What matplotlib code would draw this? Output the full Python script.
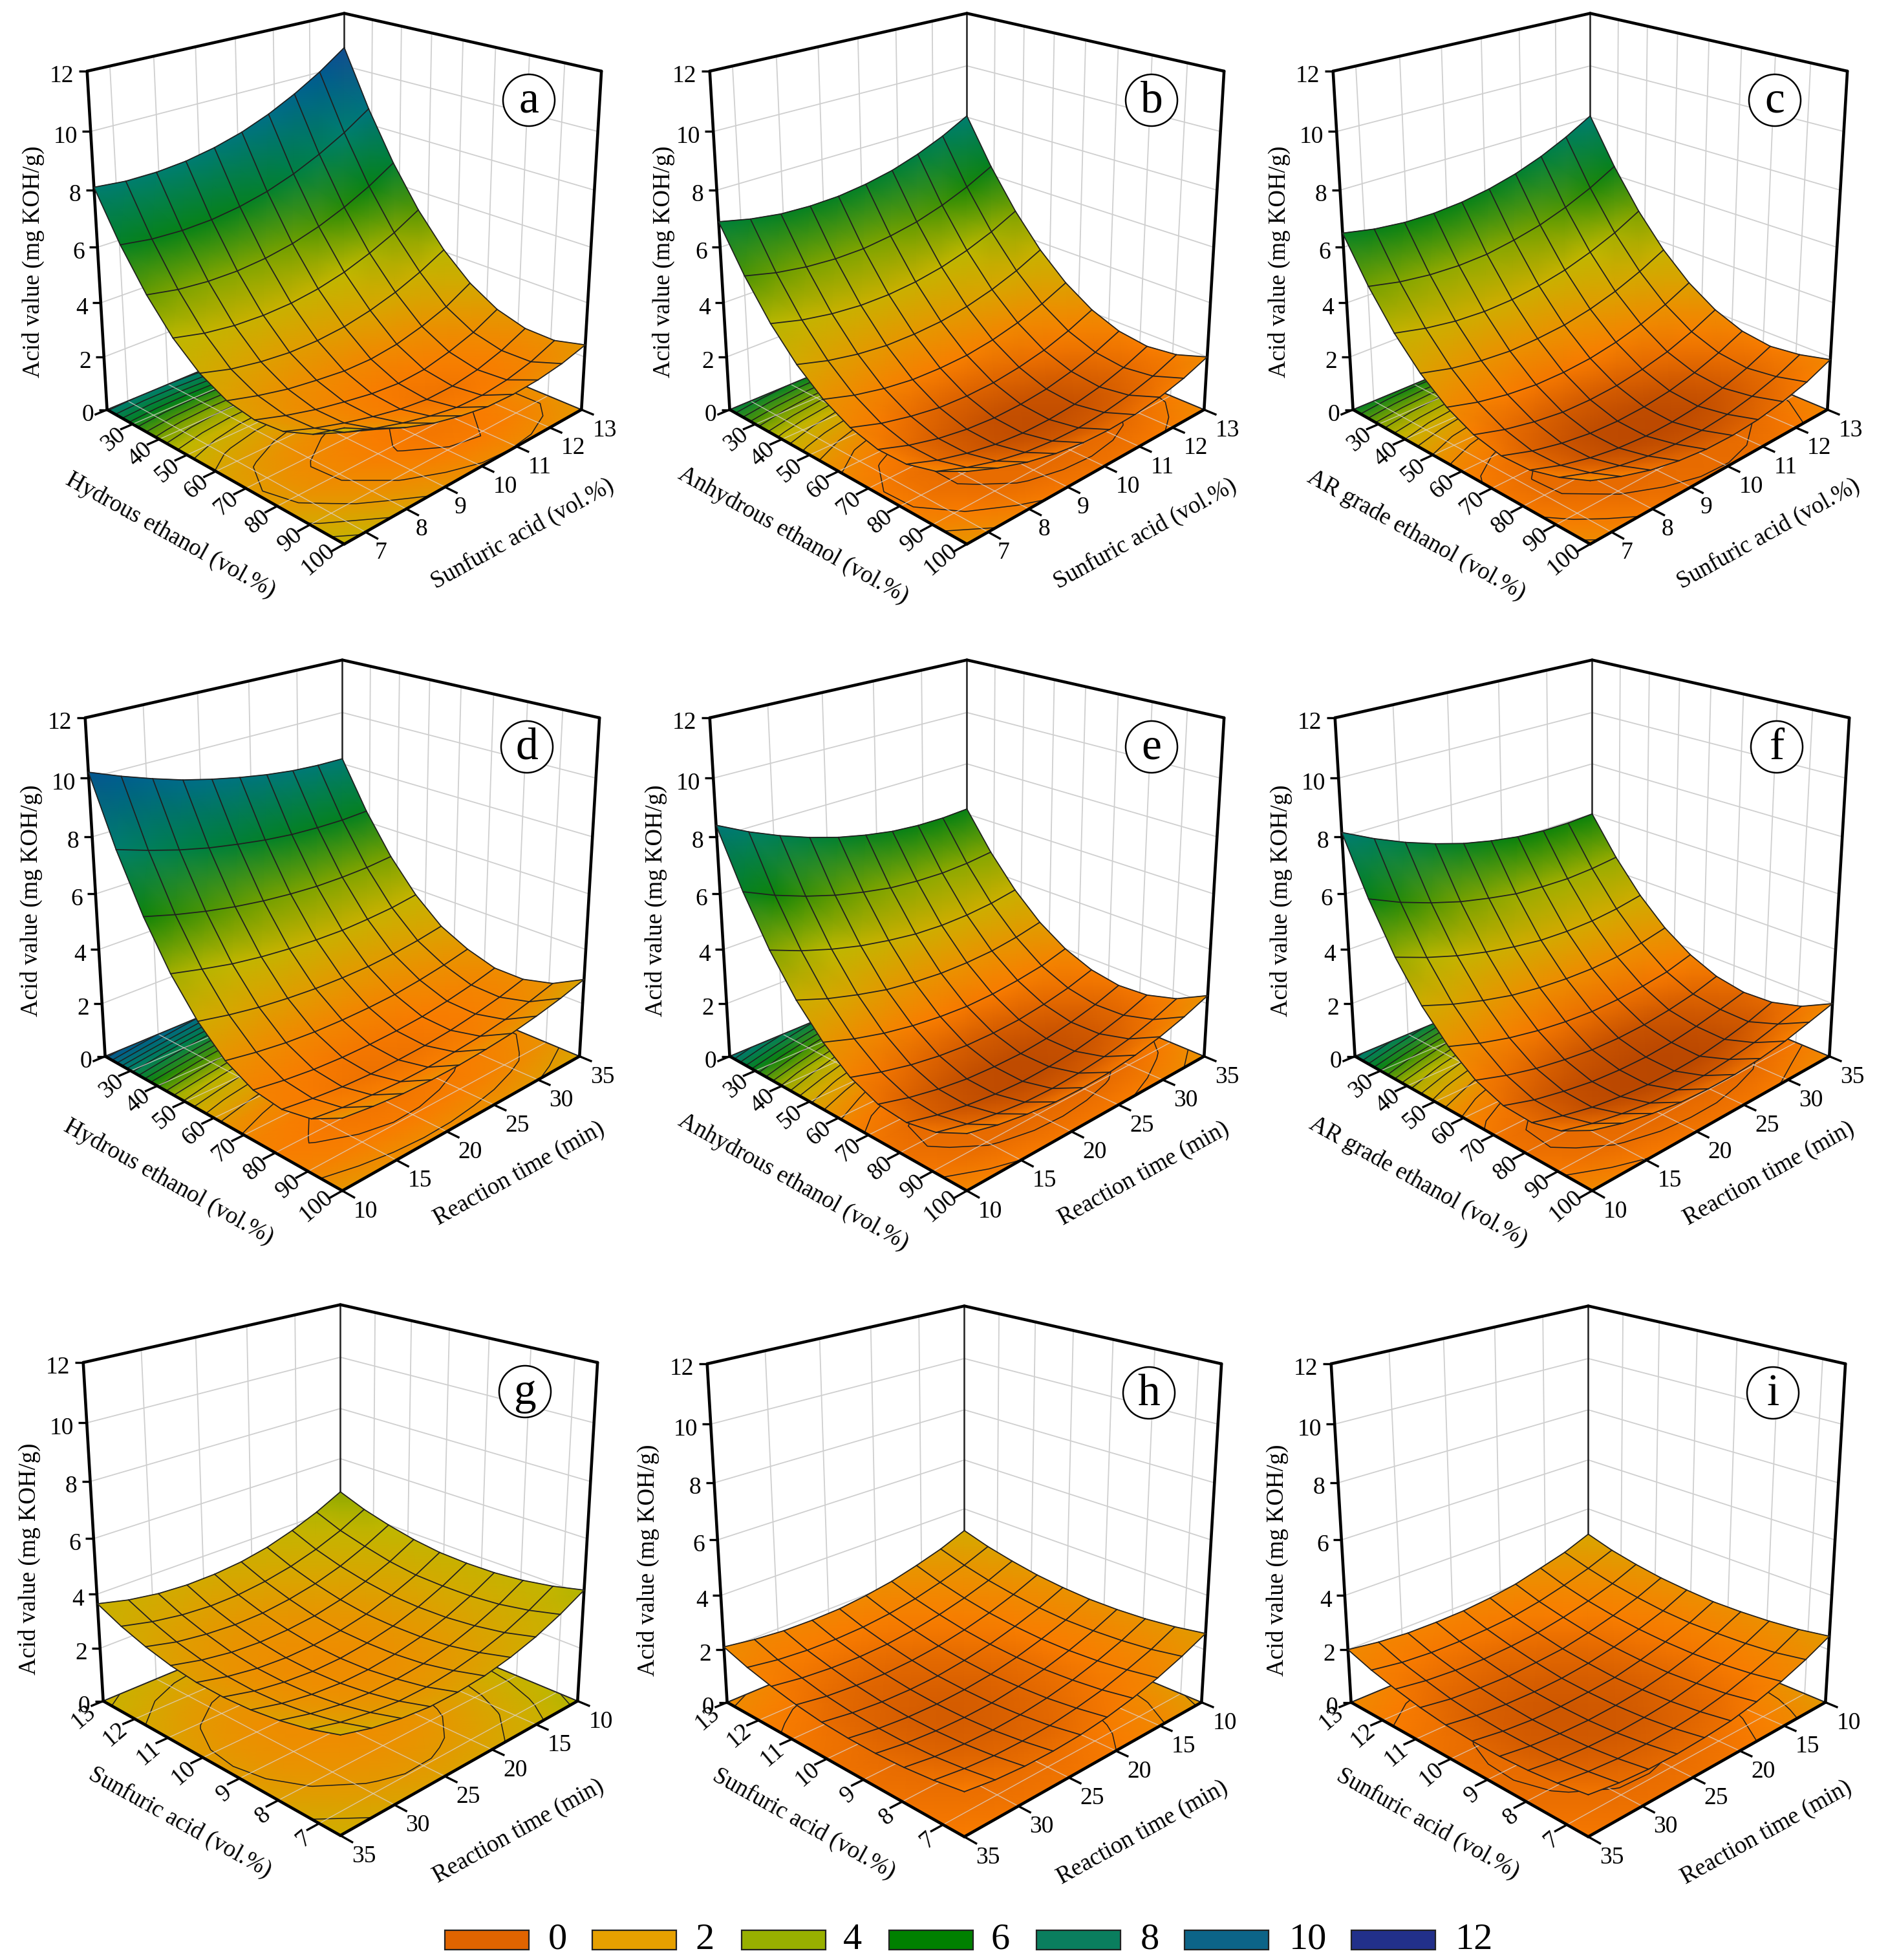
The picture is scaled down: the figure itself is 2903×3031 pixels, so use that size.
import numpy as np
import matplotlib
matplotlib.use('Agg')
import matplotlib.pyplot as plt
from matplotlib.colors import LinearSegmentedColormap, Normalize
from matplotlib.patches import Circle, Rectangle
from mpl_toolkits.mplot3d import proj3d

plt.rcParams['font.family'] = ['Liberation Serif', 'DejaVu Serif']

W, H = 2903, 3031

# acid value, rows run along the left floor edge,
# columns along the right floor edge
z_a = [[8.1, 7.99, 7.99, 8.08, 8.27, 8.55, 8.94, 9.43, 10.01, 10.7],
       [6.45, 6.29, 6.24, 6.28, 6.42, 6.65, 6.99, 7.43, 7.96, 8.6],
       [5.09, 4.88, 4.78, 4.77, 4.86, 5.04, 5.33, 5.72, 6.2, 6.79],
       [4.0, 3.74, 3.59, 3.54, 3.58, 3.72, 3.96, 4.31, 4.74, 5.28],
       [3.22, 2.91, 2.72, 2.61, 2.61, 2.7, 2.9, 3.19, 3.58, 4.07],
       [2.74, 2.44, 2.2, 2.05, 1.93, 1.92, 2.04, 2.29, 2.63, 3.15],
       [2.57, 2.23, 1.95, 1.74, 1.56, 1.47, 1.53, 1.75, 2.06, 2.53],
       [2.68, 2.29, 1.97, 1.7, 1.48, 1.35, 1.37, 1.52, 1.8, 2.21],
       [3.09, 2.65, 2.28, 1.97, 1.72, 1.54, 1.5, 1.6, 1.82, 2.18],
       [3.8, 3.25, 2.81, 2.46, 2.22, 2.05, 2.01, 2.06, 2.2, 2.45]]
z_b = [[6.9, 6.65, 6.49, 6.44, 6.47, 6.6, 6.81, 7.13, 7.54, 8.05],
       [5.36, 5.09, 4.92, 4.84, 4.85, 4.97, 5.16, 5.46, 5.85, 6.34],
       [4.08, 3.79, 3.6, 3.5, 3.5, 3.59, 3.77, 4.05, 4.42, 4.89],
       [3.07, 2.76, 2.55, 2.43, 2.42, 2.48, 2.64, 2.9, 3.25, 3.7],
       [2.31, 1.98, 1.75, 1.61, 1.58, 1.62, 1.77, 2.01, 2.34, 2.77],
       [1.81, 1.46, 1.22, 1.05, 1.0, 1.03, 1.16, 1.37, 1.69, 2.1],
       [1.56, 1.19, 0.92, 0.75, 0.67, 0.69, 0.79, 1.0, 1.29, 1.68],
       [1.58, 1.19, 0.91, 0.71, 0.61, 0.61, 0.69, 0.87, 1.15, 1.52],
       [1.87, 1.47, 1.16, 0.94, 0.83, 0.8, 0.87, 1.03, 1.28, 1.64],
       [2.4, 1.98, 1.65, 1.42, 1.28, 1.24, 1.28, 1.43, 1.66, 2.0]]
z_c = [[6.5, 6.29, 6.18, 6.17, 6.25, 6.42, 6.68, 7.04, 7.5, 8.05],
       [4.99, 4.76, 4.63, 4.59, 4.64, 4.81, 5.04, 5.38, 5.81, 6.34],
       [3.74, 3.49, 3.33, 3.27, 3.31, 3.44, 3.66, 3.98, 4.38, 4.89],
       [2.76, 2.48, 2.31, 2.22, 2.25, 2.34, 2.54, 2.83, 3.22, 3.7],
       [2.03, 1.73, 1.53, 1.42, 1.42, 1.5, 1.68, 1.95, 2.31, 2.77],
       [1.56, 1.24, 1.02, 0.88, 0.86, 0.92, 1.08, 1.31, 1.66, 2.1],
       [1.34, 0.99, 0.75, 0.6, 0.55, 0.59, 0.72, 0.95, 1.27, 1.68],
       [1.38, 1.01, 0.75, 0.58, 0.5, 0.52, 0.62, 0.83, 1.13, 1.52],
       [1.67, 1.29, 1.0, 0.81, 0.72, 0.71, 0.8, 0.99, 1.26, 1.64],
       [2.1, 1.7, 1.38, 1.17, 1.05, 1.03, 1.1, 1.27, 1.52, 1.9]]
z_d = [[10.2, 9.78, 9.41, 9.08, 8.82, 8.6, 8.42, 8.29, 8.22, 8.2],
       [7.89, 7.53, 7.21, 6.95, 6.75, 6.58, 6.46, 6.4, 6.38, 6.42],
       [5.95, 5.64, 5.38, 5.17, 5.01, 4.9, 4.83, 4.82, 4.85, 4.94],
       [4.38, 4.12, 3.89, 3.73, 3.62, 3.55, 3.52, 3.56, 3.63, 3.77],
       [3.17, 2.94, 2.76, 2.64, 2.56, 2.53, 2.54, 2.61, 2.73, 2.9],
       [2.28, 2.09, 1.95, 1.87, 1.84, 1.85, 1.9, 2.02, 2.18, 2.39],
       [1.77, 1.6, 1.48, 1.42, 1.41, 1.44, 1.51, 1.65, 1.83, 2.06],
       [1.63, 1.48, 1.37, 1.32, 1.33, 1.37, 1.46, 1.61, 1.8, 2.05],
       [1.84, 1.69, 1.6, 1.55, 1.56, 1.62, 1.71, 1.86, 2.07, 2.32],
       [2.4, 2.26, 2.16, 2.12, 2.13, 2.19, 2.28, 2.44, 2.64, 2.9]]
z_e = [[8.4, 7.85, 7.39, 7.0, 6.68, 6.44, 6.26, 6.17, 6.15, 6.2],
       [6.44, 5.95, 5.55, 5.22, 4.97, 4.77, 4.67, 4.63, 4.67, 4.78],
       [4.79, 4.36, 4.01, 3.73, 3.53, 3.38, 3.32, 3.34, 3.43, 3.6],
       [3.46, 3.07, 2.77, 2.52, 2.37, 2.28, 2.27, 2.32, 2.46, 2.67],
       [2.44, 2.09, 1.82, 1.63, 1.51, 1.45, 1.48, 1.58, 1.73, 2.0],
       [1.7, 1.39, 1.15, 0.99, 0.9, 0.89, 0.94, 1.08, 1.28, 1.57],
       [1.28, 0.99, 0.78, 0.64, 0.59, 0.59, 0.68, 0.84, 1.07, 1.38],
       [1.18, 0.91, 0.72, 0.6, 0.55, 0.59, 0.68, 0.86, 1.11, 1.44],
       [1.39, 1.13, 0.95, 0.83, 0.8, 0.85, 0.96, 1.14, 1.4, 1.74],
       [1.9, 1.64, 1.47, 1.36, 1.34, 1.38, 1.5, 1.69, 1.96, 2.3]]
z_f = [[8.15, 7.61, 7.15, 6.77, 6.45, 6.22, 6.05, 5.96, 5.95, 6.0],
       [6.19, 5.7, 5.31, 4.98, 4.74, 4.54, 4.45, 4.41, 4.46, 4.57],
       [4.54, 4.12, 3.77, 3.5, 3.29, 3.14, 3.09, 3.11, 3.21, 3.38],
       [3.26, 2.87, 2.56, 2.31, 2.16, 2.07, 2.04, 2.09, 2.23, 2.44],
       [2.29, 1.93, 1.65, 1.45, 1.32, 1.25, 1.27, 1.35, 1.49, 1.76],
       [1.6, 1.27, 1.02, 0.85, 0.73, 0.7, 0.74, 0.86, 1.04, 1.31],
       [1.23, 0.91, 0.7, 0.54, 0.47, 0.46, 0.53, 0.68, 0.88, 1.11],
       [1.18, 0.88, 0.65, 0.51, 0.43, 0.43, 0.49, 0.65, 0.86, 1.16],
       [1.44, 1.15, 0.95, 0.8, 0.75, 0.76, 0.86, 1.0, 1.23, 1.45],
       [2.0, 1.7, 1.49, 1.35, 1.3, 1.3, 1.38, 1.53, 1.76, 2.0]]
z_g = [[3.65, 3.38, 3.21, 3.14, 3.16, 3.26, 3.46, 3.77, 4.16, 4.65],
       [3.25, 2.99, 2.82, 2.74, 2.76, 2.88, 3.08, 3.38, 3.77, 4.27],
       [2.95, 2.68, 2.53, 2.45, 2.47, 2.59, 2.79, 3.09, 3.5, 3.99],
       [2.73, 2.47, 2.3, 2.23, 2.26, 2.36, 2.57, 2.88, 3.27, 3.77],
       [2.6, 2.34, 2.17, 2.1, 2.12, 2.23, 2.43, 2.74, 3.13, 3.63],
       [2.57, 2.3, 2.14, 2.06, 2.08, 2.2, 2.4, 2.7, 3.1, 3.59],
       [2.62, 2.35, 2.18, 2.1, 2.12, 2.23, 2.43, 2.73, 3.12, 3.61],
       [2.76, 2.49, 2.31, 2.23, 2.25, 2.34, 2.54, 2.84, 3.22, 3.71],
       [2.98, 2.7, 2.53, 2.43, 2.44, 2.55, 2.74, 3.02, 3.41, 3.89],
       [3.3, 3.01, 2.83, 2.73, 2.74, 2.83, 3.02, 3.3, 3.68, 4.15]]
z_h = [[2.1, 1.94, 1.84, 1.82, 1.85, 1.97, 2.14, 2.4, 2.7, 3.1],
       [1.79, 1.62, 1.53, 1.51, 1.55, 1.66, 1.84, 2.1, 2.41, 2.8],
       [1.56, 1.4, 1.31, 1.28, 1.32, 1.44, 1.62, 1.87, 2.18, 2.58],
       [1.37, 1.2, 1.12, 1.09, 1.14, 1.25, 1.44, 1.69, 2.01, 2.4],
       [1.24, 1.08, 0.99, 0.97, 1.01, 1.14, 1.32, 1.58, 1.89, 2.29],
       [1.18, 1.02, 0.93, 0.91, 0.96, 1.07, 1.26, 1.52, 1.83, 2.23],
       [1.17, 1.01, 0.93, 0.91, 0.95, 1.08, 1.26, 1.52, 1.84, 2.24],
       [1.22, 1.06, 0.98, 0.96, 1.01, 1.13, 1.32, 1.58, 1.9, 2.3],
       [1.33, 1.18, 1.09, 1.08, 1.12, 1.25, 1.43, 1.7, 2.01, 2.42],
       [1.5, 1.34, 1.26, 1.25, 1.3, 1.42, 1.61, 1.87, 2.2, 2.6]]
z_i = [[2.0, 1.84, 1.75, 1.74, 1.77, 1.87, 2.03, 2.29, 2.56, 2.95],
       [1.69, 1.52, 1.44, 1.43, 1.47, 1.55, 1.73, 1.98, 2.28, 2.65],
       [1.46, 1.3, 1.22, 1.19, 1.24, 1.33, 1.51, 1.75, 2.05, 2.44],
       [1.27, 1.1, 1.03, 1.0, 1.06, 1.14, 1.33, 1.58, 1.89, 2.28],
       [1.14, 0.98, 0.9, 0.88, 0.92, 1.03, 1.21, 1.47, 1.77, 2.19],
       [1.08, 0.92, 0.83, 0.82, 0.87, 0.95, 1.15, 1.41, 1.72, 2.13],
       [1.07, 0.91, 0.83, 0.81, 0.86, 0.96, 1.14, 1.4, 1.74, 2.15],
       [1.12, 0.96, 0.88, 0.86, 0.91, 1.01, 1.2, 1.46, 1.79, 2.21],
       [1.23, 1.08, 0.99, 0.98, 1.02, 1.12, 1.3, 1.57, 1.89, 2.32],
       [1.4, 1.24, 1.16, 1.15, 1.2, 1.29, 1.48, 1.74, 2.08, 2.5]]

ethanol_ticks = [20, 30, 40, 50, 60, 70, 80, 90, 100]
acid_ticks = [7, 8, 9, 10, 11, 12, 13]
time_ticks = [10, 15, 20, 25, 30, 35]
z_ticks = [0, 2, 4, 6, 8, 10, 12]
legend_values = [0, 2, 4, 6, 8, 10, 12]
legend_colors = ['#E06400', '#E6A000', '#98B000', '#008000', '#0A7E5E', '#0C6488', '#22308A']

acid = 'Sunfuric acid (vol.%)'
rtime = 'Reaction time (min)'

# letter, values, left axis (title, limits, ticks), right axis, panel offset in pixels
panels = [
    ('a', z_a, 'Hydrous ethanol (vol.%)', (20, 100), ethanol_ticks, acid, (6.5, 13), acid_ticks, 0, 0),
    ('b', z_b, 'Anhydrous ethanol (vol.%)', (20, 100), ethanol_ticks, acid, (6.5, 13), acid_ticks, 963, 0),
    ('c', z_c, 'AR grade ethanol (vol.%)', (20, 100), ethanol_ticks, acid, (6.5, 13), acid_ticks, 1927, 0),
    ('d', z_d, 'Hydrous ethanol (vol.%)', (20, 100), ethanol_ticks, rtime, (10, 35), time_ticks, -3, 1000),
    ('e', z_e, 'Anhydrous ethanol (vol.%)', (20, 100), ethanol_ticks, rtime, (10, 35), time_ticks, 963, 1000),
    ('f', z_f, 'AR grade ethanol (vol.%)', (20, 100), ethanol_ticks, rtime, (10, 35), time_ticks, 1930, 1000),
    ('g', z_g, acid, (13, 6.5), acid_ticks[::-1], rtime, (35, 10), time_ticks[::-1], -6, 1997),
    ('h', z_h, acid, (13, 6.5), acid_ticks[::-1], rtime, (35, 10), time_ticks[::-1], 959, 1999),
    ('i', z_i, acid, (13, 6.5), acid_ticks[::-1], rtime, (35, 10), time_ticks[::-1], 1924, 1999),
]

# title spots per row: z title y, left title x and y, right title x and y
title_spots = [(405, 264, 828, 808, 826), (393, 264, 828, 806, 815), (414, 284, 822, 808, 835)]
z_title_shift = {'b': 12, 'h': -8}

surf_stops = [(0, '#A83A00'), (0.6, '#C04C00'), (1.0, '#DC6200'), (1.5, '#F97C00'), (2.2, '#EC9000'),
              (3, '#D6A800'), (4, '#BEB800'), (5, '#74A000'), (6, '#0A820A'), (7, '#008040'),
              (8, '#007E70'), (9, '#006E88'), (10, '#005A90'), (11, '#1A4890'), (12, '#223388')]
floor_stops = [(0, '#E56800'), (1.0, '#E86C00')] + surf_stops[3:]
surf_cmap = LinearSegmentedColormap.from_list('surf', [(v / 12, c) for v, c in surf_stops], N=512)
floor_cmap = LinearSegmentedColormap.from_list('floor', [(v / 12, c) for v, c in floor_stops], N=512)
norm = Normalize(0, 12)

fig = plt.figure(figsize=(W / 100, H / 100), dpi=100)
ov = fig.add_axes([0, 0, 1, 1], zorder=10)
ov.set_xlim(0, W)
ov.set_ylim(0, H)
ov.set_autoscale_on(False)
ov.axis('off')

AX_SIZE = 1105
Z_TOP = 17.4  # camera aims above the box middle, so the z range runs past 12


def project(ax, x, y, z):
    x, y, z = np.broadcast_arrays(np.asarray(x, float), np.asarray(y, float), np.asarray(z, float))
    shape = x.shape
    px, py, _ = proj3d.proj_transform(x.ravel(), y.ravel(), z.ravel(), ax.get_proj())
    out = ax.transData.transform(np.column_stack([px, py]))
    return out[:, 0].reshape(shape), out[:, 1].reshape(shape)


def seg(ax, a, b, **kw):
    xs, ys = project(ax, [a[0], b[0]], [a[1], b[1]], [a[2], b[2]])
    ov.plot(xs, ys, solid_capstyle='round', **kw)


for n_panel, (letter, values, xtitle, xlim, xticks, ytitle, ylim, yticks, dx, dy) in enumerate(panels):
    ax = fig.add_axes([(-35 + dx) / W, (H - 830 - dy) / H, AX_SIZE / W, AX_SIZE / H], projection='3d')
    ax.set_box_aspect((1, 1, 1.043 * Z_TOP / 12))
    ax.view_init(elev=19, azim=-45)
    ax.set_proj_type('persp', focal_length=0.38)
    ax.set_xlim(*xlim, view_margin=0)
    ax.set_ylim(*ylim, view_margin=0)
    ax.set_zlim(0, Z_TOP, view_margin=0)
    ax.set_axis_off()
    ax.apply_aspect()

    x0, x1 = xlim
    y0, y1 = ylim
    Z = np.array(values)
    gx, gy = np.meshgrid(np.linspace(x0, x1, Z.shape[0]), np.linspace(y0, y1, Z.shape[1]), indexing='ij')

    # walls
    wall = dict(color='#CFCFCF', lw=1.3, zorder=1)
    for v in yticks:
        seg(ax, (x0, v, 0), (x0, v, 12), **wall)
    for v in xticks:
        seg(ax, (v, y1, 0), (v, y1, 12), **wall)
    for v in z_ticks[1:]:
        seg(ax, (x0, y0, v), (x0, y1, v), **wall)
        seg(ax, (x0, y1, v), (x1, y1, v), **wall)
    seg(ax, (x0, y1, 0), (x0, y1, 12), color='#222222', lw=1.8, zorder=1.5)

    # floor with contours of the same values
    fx, fy = project(ax, gx, gy, 0)
    ov.pcolormesh(fx, fy, np.maximum(Z, 0), shading='gouraud', cmap=floor_cmap, norm=norm, zorder=2)
    ov.contour(fx, fy, Z, levels=np.arange(0.5, 12, 0.5), colors='#1E1E1E', linewidths=1.1, zorder=3)
    floor_line = dict(color='#DDD5D0', lw=1.0, alpha=0.75, zorder=3.5)
    for v in xticks:
        seg(ax, (v, y0, 0), (v, y1, 0), **floor_line)
    for v in yticks:
        seg(ax, (x0, v, 0), (x1, v, 0), **floor_line)
    seg(ax, (x0, y0, 0), (x0, y1, 0), color='#222222', lw=1.4, zorder=3.6)
    seg(ax, (x0, y1, 0), (x1, y1, 0), color='#222222', lw=1.4, zorder=3.6)

    # frame
    frame = dict(color='black', lw=3.3, zorder=4)
    seg(ax, (x0, y0, 0), (x1, y0, 0), **frame)
    seg(ax, (x1, y0, 0), (x1, y1, 0), **frame)
    seg(ax, (x0, y0, 0), (x0, y0, 12), **frame)
    seg(ax, (x1, y1, 0), (x1, y1, 12), **frame)
    seg(ax, (x0, y0, 12), (x0, y1, 12), **frame)
    seg(ax, (x0, y1, 12), (x1, y1, 12), **frame)

    # surface and its mesh
    sx, sy = project(ax, gx, gy, Z)
    ov.pcolormesh(sx[:, ::-1], sy[:, ::-1], Z[:, ::-1], shading='gouraud', cmap=surf_cmap, norm=norm, zorder=5)
    ov.plot(sx, sy, color='#202020', lw=1.25, zorder=6)
    ov.plot(sx.T, sy.T, color='#202020', lw=1.25, zorder=6)

    # ticks and labels
    tick = dict(color='black', lw=2.4, zorder=4, solid_capstyle='butt')
    for v in z_ticks:
        tx, ty = project(ax, x0, y0, v)
        ov.plot([tx, tx - 13], [ty, ty], **tick)
        ov.text(tx - 20, ty - 8, str(v), ha='right', va='center', fontsize=27, zorder=7)
    xlabels_from = 1 if xticks[0] == 20 else 0
    for n, v in enumerate(xticks):
        tx, ty = project(ax, v, y0, 0)
        ox, oy = project(ax, v, y0 - 0.045 * (y1 - y0), 0)
        ov.plot([tx, ox], [ty, oy], **tick)
        if n >= xlabels_from:
            sh = {1: 24, 2: 30, 3: 40}[len(str(v))]
            ov.text(tx - sh, ty - 24, str(v), ha='center', va='center', rotation=40,
                    rotation_mode='anchor', fontsize=27, zorder=7)
    for v in yticks:
        tx, ty = project(ax, x1, v, 0)
        ox, oy = project(ax, x1 + 0.045 * (x1 - x0), v, 0)
        ov.plot([tx, ox], [ty, oy], **tick)
        sh = 36 if len(str(v)) > 1 else 24
        ov.text(tx + sh, ty - 32, str(v), ha='center', va='center', fontsize=27, zorder=7)

    # titles
    zy, lx, ly, rx, ry = title_spots[n_panel // 3]
    ov.text(51 + dx + z_title_shift.get(letter, 0), H - zy - dy, 'Acid value (mg KOH/g)', rotation=90,
            ha='center', va='center', fontsize=26.5, zorder=7)
    ov.text(lx + dx, H - ly - dy, xtitle, rotation=-29, ha='center', va='center',
            rotation_mode='anchor', fontsize=26.5, zorder=7)
    ov.text(rx + dx, H - ry - dy, ytitle, rotation=29, ha='center', va='center',
            rotation_mode='anchor', fontsize=26.5, zorder=7)

    # panel letter
    ov.add_patch(Circle((818 + dx, H - 155 - dy), 40, fc='white', ec='black', lw=1.8, zorder=7))
    ov.text(818 + dx, H - 157 - dy, letter, ha='center', va='center', fontsize=50, zorder=8)

# legend
swatch_x = [688, 916, 1147, 1375, 1603, 1832, 2090]
label_x = [862, 1090, 1318, 1547, 1778, 2023, 2280]
for color, val, sx0, lx in zip(legend_colors, legend_values, swatch_x, label_x):
    ov.add_patch(Rectangle((sx0, H - 3015), 130, 30, fc=color, ec='#222222', lw=1.6, zorder=7))
    ov.text(lx, H - 3000, str(val), ha='center', va='center', fontsize=42, zorder=7)

fig.savefig('out.png', dpi=100, facecolor='white')
